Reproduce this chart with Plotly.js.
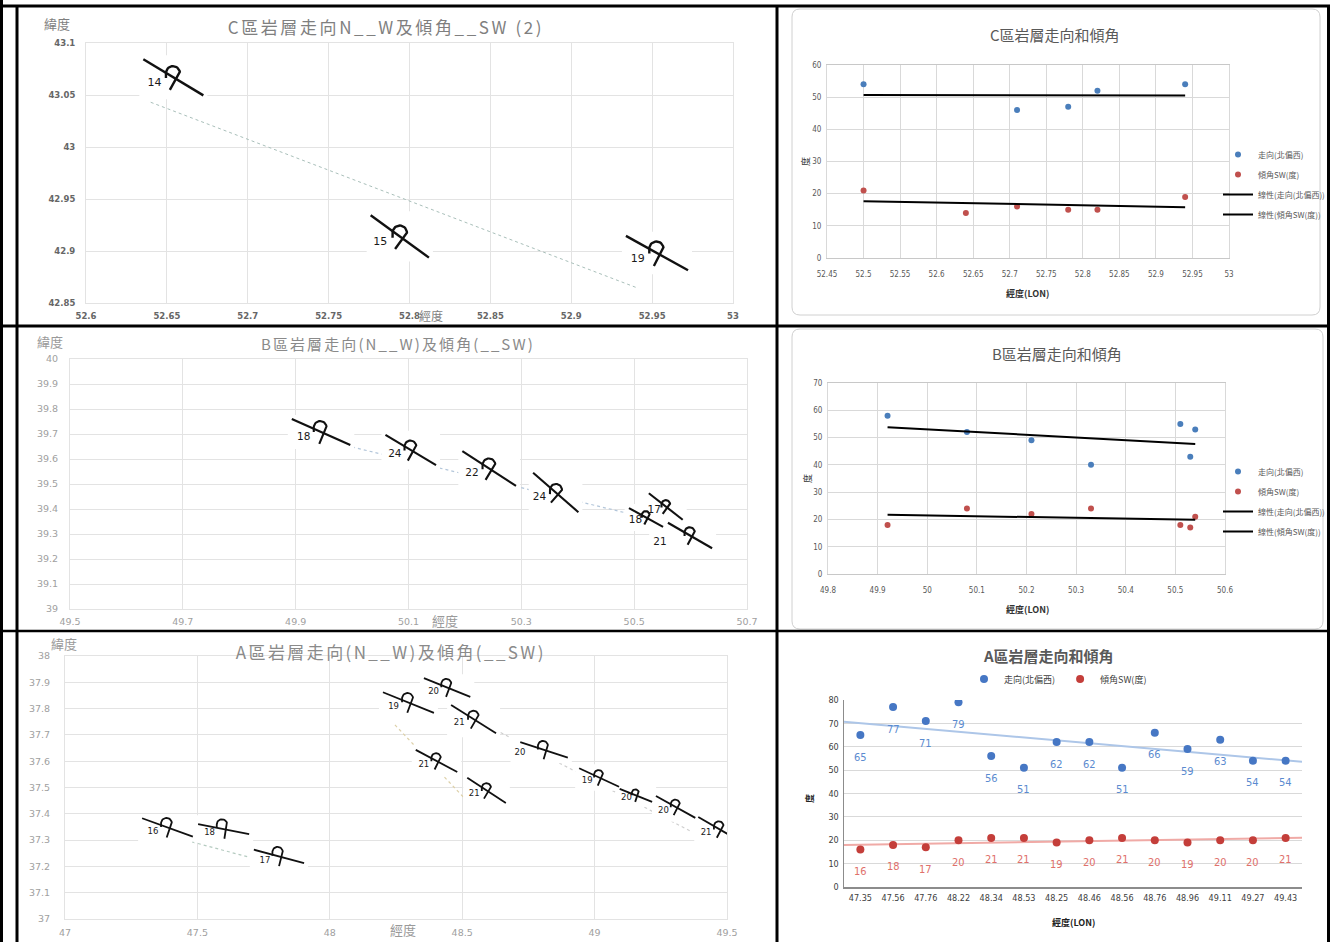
<!DOCTYPE html>
<html><head><meta charset="utf-8">
<script src="https://cdn.plot.ly/plotly-3.0.1.min.js"></script>
<style>html,body{margin:0;padding:0;background:#fff;}#chart{width:1344px;height:942px;}</style>
</head><body><div id="chart"></div>
<script>
// ================= DATA =================
// C area map (strike / dip symbols)
const cMapLon = [52.654, 52.794, 52.953];
const cMapLat = [43.067, 42.914, 42.898];
const cMapDip = [14, 15, 19];
const cMapStrike = [59, 54, 61];           // N__W
const cMapTrendLon = [52.64, 52.94];
const cMapTrendLat = [43.043, 42.865];

// B area map
const bMapLon = [49.945, 50.104, 50.243, 50.361, 50.521, 50.556, 50.599];
const bMapLat = [39.708, 39.636, 39.562, 39.466, 39.366, 39.410, 39.294];
const bMapDip = [18, 24, 22, 24, 18, 17, 21];
const bMapStrike = [66, 59, 57, 49, 61, 52, 60];
const bMapTrendLon = [50.0, 50.49];
const bMapTrendLat = [39.648, 39.382];

// A area map
const aMapLon = [47.387, 47.599, 47.808, 48.297, 48.443, 48.543, 48.809, 48.403, 48.592, 49.017, 49.156, 49.306, 49.470];
const aMapLat = [37.348, 37.342, 37.238, 37.823, 37.880, 37.760, 37.643, 37.601, 37.489, 37.538, 37.470, 37.426, 37.342];
const aMapDip = [16, 18, 17, 19, 20, 21, 20, 21, 21, 19, 20, 20, 21];
const aMapStrike = [70, 79, 75, 68, 68, 58, 72, 62, 57, 65, 68, 61, 60];
const aMapTrendLon = [[47.48, 47.706], [48.246, 48.522], [48.605, 49.368]];
const aMapTrendLat = [[37.293, 37.232], [37.738, 37.445], [37.730, 37.331]];

// C area chart
const cLonStrike = [52.5, 52.71, 52.78, 52.82, 52.94];
const cStrike = [54, 46, 47, 52, 54];
const cLonDip = [52.5, 52.64, 52.71, 52.78, 52.82, 52.94];
const cDip = [21, 14, 16, 15, 15, 19];

// B area chart
const bLon = [49.92, 50.08, 50.21, 50.33, 50.51, 50.53, 50.54];
const bStrike = [58, 52, 49, 40, 55, 43, 53];
const bDip = [18, 24, 22, 24, 18, 17, 21];

// A area chart (category axis)
const aLonLabels = ['47.35','47.56','47.76','48.22','48.34','48.53','48.25','48.46','48.56','48.76','48.96','49.11','49.27','49.43'];
const aStrike = [65, 77, 71, 79, 56, 51, 62, 62, 51, 66, 59, 63, 54, 54];
const aDip = [16, 18, 17, 20, 21, 21, 19, 20, 21, 20, 19, 20, 20, 21];

// ================= STYLE / LAYOUT =================
const W = 1344, H = 942;
const fx = p => p / W, fy = p => 1 - p / H;
const CJK = '"Noto Sans CJK TC","Noto Sans CJK SC","Noto Sans",sans-serif';
const NARROW = '"Liberation Sans Narrow","DejaVu Sans Condensed","Liberation Sans",sans-serif';
const WIDE = '"DejaVu Sans","Liberation Sans",sans-serif';

const SPEC = {
  cMap: {x: [86, 733], y: [43, 303], xr: [52.6, 53], yr: [42.85, 43.1]},
  bMap: {x: [70, 747], y: [359, 609], xr: [49.5, 50.7], yr: [39, 40]},
  aMap: {x: [65, 727], y: [656, 919], xr: [47, 49.5], yr: [37, 38]},
  cCh:  {x: [827, 1229], y: [65, 258], xr: [52.45, 53], yr: [0, 60]},
  bCh:  {x: [828, 1225], y: [383, 574], xr: [49.8, 50.6], yr: [0, 70]},
  aCh:  {x: [844, 1302], y: [700, 887], xr: [-0.5, 13.5], yr: [0, 80]}
};
// symbol sizes (strike length px), style only
const cSymLen = [70, 72, 71];
const bSymLen = [64, 59, 64, 60, 39, 43, 51];
const aSymLen = [54, 52, 52, 55, 50, 53, 50, 47, 46, 44, 35, 45, 48];
const bLabelOverride = {6: [-30, 7]};
const aLabelOverride = {6: [-24, 3]};

function linfit(xs, ys) {
  const n = xs.length; let mx = 0, my = 0;
  for (let i = 0; i < n; i++) { mx += xs[i] / n; my += ys[i] / n; }
  let sxy = 0, sxx = 0;
  for (let i = 0; i < n; i++) { sxy += (xs[i] - mx) * (ys[i] - my); sxx += (xs[i] - mx) ** 2; }
  const m = sxy / sxx;
  return x => my + m * (x - mx);
}

function buildMap(spec, xa, ya, lon, lat, strike, dip, lens, fs, lw, override) {
  const kx = (spec.x[1] - spec.x[0]) / (spec.xr[1] - spec.xr[0]);
  const ky = (spec.y[1] - spec.y[0]) / (spec.yr[1] - spec.yr[0]);
  const sx = [], sy = [], bx = [], by = [], tx = [], ty = [], tt = [];
  for (let i = 0; i < lon.length; i++) {
    const L = lens[i], th = (90 - strike[i]) * Math.PI / 180;
    const u = [Math.cos(th), Math.sin(th)], v = [Math.sin(th), -Math.cos(th)];
    const s1 = [[-L / 2 * u[0], -L / 2 * u[1]], [L / 2 * u[0], L / 2 * u[1]]];
    const a = 0.18 * L, b = 0.1 * L, r = 0.1 * L, c = 0.05 * L;
    const C0 = [c * u[0], c * u[1]];
    const T2 = [C0[0] + b * v[0], C0[1] + b * v[1]];
    const s2 = [[C0[0] - a * v[0], C0[1] - a * v[1]], T2];
    const M = [T2[0] - r, T2[1]];
    for (let k = 1; k <= 18; k++) {
      const f = Math.PI * k / 18;
      s2.push([M[0] + r * Math.cos(f), M[1] - r * Math.sin(f)]);
    }
    const e = s2[s2.length - 1];
    s2.push([e[0], e[1] + 0.07 * L]);
    const lo = (override && override[i]) ? override[i] : [-0.27 * L, 0.08 * L];
    [s1, s2].forEach(seg => {
      seg.forEach(p => { sx.push(lon[i] + p[0] / kx); sy.push(lat[i] - p[1] / ky); });
      sx.push(null); sy.push(null);
    });
    tx.push(lon[i] + lo[0] / kx); ty.push(lat[i] - lo[1] / ky); tt.push(String(dip[i]));
    // white picture background
    const all = s1.concat(s2);
    let x0 = Math.min(...all.map(p => p[0]), lo[0] - fs * 0.65), x1 = Math.max(...all.map(p => p[0]));
    let y0 = Math.min(...all.map(p => p[1]), lo[1] - fs * 0.5), y1 = Math.max(...all.map(p => p[1]), lo[1] + fs * 0.5);
    const pad = 4; x0 -= pad; x1 += pad; y0 -= pad; y1 += pad;
    [[x0, y0], [x1, y0], [x1, y1], [x0, y1], [x0, y0]].forEach(p => { bx.push(lon[i] + p[0] / kx); by.push(lat[i] - p[1] / ky); });
    bx.push(null); by.push(null);
  }
  return [
    {type: 'scatter', mode: 'lines', x: bx, y: by, xaxis: xa, yaxis: ya, fill: 'toself', fillcolor: '#ffffff', line: {width: 0, color: 'rgba(0,0,0,0)'}, hoverinfo: 'skip', showlegend: false},
    {type: 'scatter', mode: 'lines', x: sx, y: sy, xaxis: xa, yaxis: ya, line: {color: '#111', width: lw}, hoverinfo: 'skip', showlegend: false},
    {type: 'scatter', mode: 'text', x: tx, y: ty, text: tt, xaxis: xa, yaxis: ya, textfont: {family: WIDE, size: fs, color: '#1a1a1a'}, hoverinfo: 'skip', showlegend: false}
  ];
}

const traces = [];
// ---- map trend lines (drawn first, under the symbol pictures)
traces.push({type: 'scatter', mode: 'lines', x: cMapTrendLon, y: cMapTrendLat, xaxis: 'x', yaxis: 'y', line: {color: '#a9bfba', width: 1, dash: 'dot'}, showlegend: false, hoverinfo: 'skip'});
traces.push({type: 'scatter', mode: 'lines', x: bMapTrendLon, y: bMapTrendLat, xaxis: 'x3', yaxis: 'y3', line: {color: '#b3c6da', width: 1.2, dash: 'dot'}, showlegend: false, hoverinfo: 'skip'});
const aTrendColors = ['#b5cbc0', '#ddd0a8', '#cfcfcf'];
aMapTrendLon.forEach((xs, i) => traces.push({type: 'scatter', mode: 'lines', x: xs, y: aMapTrendLat[i], xaxis: 'x5', yaxis: 'y5', line: {color: aTrendColors[i], width: 1.2, dash: 'dot'}, showlegend: false, hoverinfo: 'skip'}));

traces.push(...buildMap(SPEC.cMap, 'x', 'y', cMapLon, cMapLat, cMapStrike, cMapDip, cSymLen, 11, 2.4, null));
traces.push(...buildMap(SPEC.bMap, 'x3', 'y3', bMapLon, bMapLat, bMapStrike, bMapDip, bSymLen, 10.5, 2.1, bLabelOverride));
traces.push(...buildMap(SPEC.aMap, 'x5', 'y5', aMapLon, aMapLat, aMapStrike, aMapDip, aSymLen, 8.5, 1.8, aLabelOverride));

// ---- right-hand scatter charts
const BLUE = '#4a7ebb', RED = '#c0504d';
function chartTraces(xa, ya, leg, xsS, ysS, xsD, ysD) {
  const fS = linfit(xsS, ysS), fD = linfit(xsD, ysD);
  const sx = [Math.min(...xsS), Math.max(...xsS)], dx = [Math.min(...xsD), Math.max(...xsD)];
  return [
    {type: 'scatter', mode: 'markers', name: '走向(北偏西)', x: xsS, y: ysS, xaxis: xa, yaxis: ya, legend: leg, legendgroup: leg + 'a', marker: {color: BLUE, size: 6}},
    {type: 'scatter', mode: 'markers', name: '傾角SW(度)', x: xsD, y: ysD, xaxis: xa, yaxis: ya, legend: leg, legendgroup: leg + 'b', marker: {color: RED, size: 6}},
    {type: 'scatter', mode: 'lines', name: '線性(走向(北偏西))', x: sx, y: sx.map(fS), xaxis: xa, yaxis: ya, legend: leg, legendgroup: leg + 'c', line: {color: '#000', width: 2}},
    {type: 'scatter', mode: 'lines', name: '線性(傾角SW(度))', x: dx, y: dx.map(fD), xaxis: xa, yaxis: ya, legend: leg, legendgroup: leg + 'd', line: {color: '#000', width: 2}}
  ];
}
traces.push(...chartTraces('x2', 'y2', 'legend', cLonStrike, cStrike, cLonDip, cDip));
traces.push(...chartTraces('x4', 'y4', 'legend2', bLon, bStrike, bLon, bDip));

// A chart
const aIdx = aLonLabels.map((_, i) => i);
const fAS = linfit(aIdx, aStrike), fAD = linfit(aIdx, aDip);
const aEnds = [SPEC.aCh.xr[0], SPEC.aCh.xr[1]];
traces.push({type: 'scatter', mode: 'lines', x: aEnds, y: aEnds.map(fAS), xaxis: 'x6', yaxis: 'y6', line: {color: '#adc6e8', width: 2}, showlegend: false, hoverinfo: 'skip'});
traces.push({type: 'scatter', mode: 'lines', x: aEnds, y: aEnds.map(fAD), xaxis: 'x6', yaxis: 'y6', line: {color: '#f0aaa6', width: 2}, showlegend: false, hoverinfo: 'skip'});
traces.push({type: 'scatter', mode: 'markers', name: '走向(北偏西)', x: aIdx, y: aStrike, xaxis: 'x6', yaxis: 'y6', legend: 'legend3', marker: {color: '#4677c4', size: 8}});
traces.push({type: 'scatter', mode: 'markers', name: '傾角SW(度)', x: aIdx, y: aDip, xaxis: 'x6', yaxis: 'y6', legend: 'legend3', marker: {color: '#c43e3a', size: 8}});

// ---- axes
const GRID = '#e3e3e3';
function axX(s, o) { return Object.assign({domain: [fx(s.x[0]), fx(s.x[1])], range: s.xr.slice(), fixedrange: true, showgrid: true, gridcolor: GRID, zeroline: false, ticks: '', showline: true, mirror: true, linecolor: GRID}, o); }
function axY(s, o) { return Object.assign({domain: [fy(s.y[1]), fy(s.y[0])], range: s.yr.slice(), fixedrange: true, showgrid: true, gridcolor: GRID, zeroline: false, ticks: '', showline: true, mirror: true, linecolor: GRID}, o); }
const mapTickC = {family: WIDE, size: 8.5, color: '#666', weight: 'bold'};
const mapTick = {family: WIDE, size: 9.5, color: '#a0a0a0'};
const chTick = {family: NARROW, size: 8, color: '#595959'};

const layout = {
  width: W, height: H, autosize: false, margin: {l: 0, r: 0, t: 0, b: 0},
  paper_bgcolor: '#fff', plot_bgcolor: '#fff', showlegend: true,
  xaxis: axX(SPEC.cMap, {anchor: 'y', dtick: 0.05, tick0: 52.6, tickfont: mapTickC, ticklabelstandoff: 5}),
  yaxis: axY(SPEC.cMap, {anchor: 'x', dtick: 0.05, tick0: 42.85, tickfont: mapTickC, ticklabelstandoff: 8}),
  xaxis2: axX(SPEC.cCh, {anchor: 'y2', dtick: 0.05, tick0: 52.45, tickfont: chTick, ticklabelstandoff: 8, gridcolor: '#d9d9d9', linecolor: '#c8c8c8'}),
  yaxis2: axY(SPEC.cCh, {anchor: 'x2', dtick: 10, tickfont: chTick, ticklabelstandoff: 3, gridcolor: '#d9d9d9', linecolor: '#d9d9d9'}),
  xaxis3: axX(SPEC.bMap, {anchor: 'y3', dtick: 0.2, tick0: 49.5, tickfont: mapTick, ticklabelstandoff: 4}),
  yaxis3: axY(SPEC.bMap, {anchor: 'x3', dtick: 0.1, tick0: 39, tickfont: mapTick, ticklabelstandoff: 9}),
  xaxis4: axX(SPEC.bCh, {anchor: 'y4', dtick: 0.1, tick0: 49.8, tickfont: chTick, ticklabelstandoff: 8, gridcolor: '#d9d9d9', linecolor: '#c8c8c8'}),
  yaxis4: axY(SPEC.bCh, {anchor: 'x4', dtick: 10, tickfont: chTick, ticklabelstandoff: 3, gridcolor: '#d9d9d9', linecolor: '#d9d9d9'}),
  xaxis5: axX(SPEC.aMap, {anchor: 'y5', dtick: 0.5, tick0: 47, tickfont: mapTick, ticklabelstandoff: 5}),
  yaxis5: axY(SPEC.aMap, {anchor: 'x5', dtick: 0.1, tick0: 37, tickfont: mapTick, ticklabelstandoff: 12}),
  xaxis6: axX(SPEC.aCh, {anchor: 'y6', showgrid: false, mirror: false, linecolor: '#8c8c8c', linewidth: 1.5, tickvals: aIdx, ticktext: aLonLabels, tickfont: {family: NARROW, size: 9, color: '#404040'}, ticklabelstandoff: 2}),
  yaxis6: axY(SPEC.aCh, {anchor: 'x6', dtick: 10, mirror: false, linecolor: '#8c8c8c', linewidth: 1.5, gridcolor: '#d9d9d9', tickfont: {family: NARROW, size: 9, color: '#404040'}, ticklabelstandoff: 2}),
  legend: {x: fx(1218), y: fy(140), xanchor: 'left', yanchor: 'top', font: {family: CJK, size: 8, color: '#595959'}, bgcolor: 'rgba(0,0,0,0)', tracegroupgap: 1, itemclick: false},
  legend2: {x: fx(1218), y: fy(457), xanchor: 'left', yanchor: 'top', font: {family: CJK, size: 8, color: '#595959'}, bgcolor: 'rgba(0,0,0,0)', tracegroupgap: 1, itemclick: false},
  legend3: {orientation: 'h', x: fx(1058), y: fy(679), xanchor: 'center', yanchor: 'middle', font: {family: CJK, size: 9, color: '#404040'}, bgcolor: 'rgba(0,0,0,0)', itemclick: false},
  annotations: [],
  shapes: []
};

const A = layout.annotations;
function pann(px, py, text, font, extra) { A.push(Object.assign({xref: 'paper', yref: 'paper', x: fx(px), y: fy(py), text: text, showarrow: false, xanchor: 'center', yanchor: 'middle', font: font}, extra || {})); }
// map titles & axis labels (first three annotations get letter spacing)
pann(386, 27, 'C區岩層走向N__W及傾角__SW (2)', {family: CJK, size: 17, color: '#7f7f7f'});
pann(398, 343, 'B區岩層走向(N__W)及傾角(__SW)', {family: CJK, size: 15, color: '#8a8a8a'});
pann(391, 651, 'A區岩層走向(N__W)及傾角(__SW)', {family: CJK, size: 17, color: '#8a8a8a'});
pann(57, 24, '緯度', {family: CJK, size: 13, color: '#7f7f7f'});
pann(431, 316, '經度', {family: CJK, size: 12, color: '#7f7f7f'});
pann(50, 342, '緯度', {family: CJK, size: 13, color: '#9a9a9a'});
pann(445, 620, '經度', {family: CJK, size: 13, color: '#9a9a9a'});
pann(64, 643, '緯度', {family: CJK, size: 13, color: '#9a9a9a'});
pann(403, 929, '經度', {family: CJK, size: 13, color: '#9a9a9a'});
// chart titles & axis labels
pann(1055, 35, 'C區岩層走向和傾角', {family: CJK, size: 15, color: '#595959'});
pann(806, 162, '度', {family: CJK, size: 9, color: '#333'}, {textangle: -90});
pann(1027, 294, '經度(LON)', {family: CJK, size: 9, color: '#333', weight: 'bold'});
pann(1057, 353, 'B區岩層走向和傾角', {family: CJK, size: 15, color: '#595959'});
pann(807, 479, '度', {family: CJK, size: 9, color: '#333'}, {textangle: -90});
pann(1027, 609, '經度(LON)', {family: CJK, size: 9, color: '#333', weight: 'bold'});
pann(1048, 655, 'A區岩層走向和傾角', {family: CJK, size: 15, color: '#595959', weight: 'bold'});
pann(809, 799, '度', {family: CJK, size: 9, color: '#222', weight: 'bold'}, {textangle: -90});
pann(1073, 922, '經度(LON)', {family: CJK, size: 9, color: '#222', weight: 'bold'});
// A chart data labels
aStrike.forEach((v, i) => A.push({xref: 'x6', yref: 'y6', x: i, y: v, text: String(v), showarrow: false, yshift: -22, font: {family: NARROW, size: 11, color: '#5b8bd0'}}));
aDip.forEach((v, i) => A.push({xref: 'x6', yref: 'y6', x: i, y: v, text: String(v), showarrow: false, yshift: -22, font: {family: NARROW, size: 11, color: '#e0706b'}}));

// shapes: rounded chart boxes and black table borders
function rr(x0, y0, x1, y1, r) {
  const X = fx, Y = fy;
  return `M${X(x0 + r)},${Y(y0)} L${X(x1 - r)},${Y(y0)} Q${X(x1)},${Y(y0)} ${X(x1)},${Y(y0 + r)} L${X(x1)},${Y(y1 - r)} Q${X(x1)},${Y(y1)} ${X(x1 - r)},${Y(y1)} L${X(x0 + r)},${Y(y1)} Q${X(x0)},${Y(y1)} ${X(x0)},${Y(y1 - r)} L${X(x0)},${Y(y0 + r)} Q${X(x0)},${Y(y0)} ${X(x0 + r)},${Y(y0)} Z`;
}
const S = layout.shapes;
S.push({type: 'path', xref: 'paper', yref: 'paper', path: rr(792, 9, 1320, 315, 8), line: {color: '#d0d0d0', width: 1}});
S.push({type: 'path', xref: 'paper', yref: 'paper', path: rr(792, 329, 1323, 629, 8), line: {color: '#d0d0d0', width: 1}});
function bl(x0, y0, x1, y1, w) { S.push({type: 'line', xref: 'paper', yref: 'paper', x0: fx(x0), y0: fy(y0), x1: fx(x1), y1: fy(y1), line: {color: '#000', width: w}}); }
bl(1.5, 0, 1.5, 942, 3);
bl(17, 5, 17, 942, 3);
bl(777, 5, 777, 942, 3);
bl(1328.5, 5, 1328.5, 942, 3);
bl(0, 6, 1330, 6, 3);
bl(0, 326, 1330, 326, 3);
bl(0, 631, 1330, 631, 2.5);

Plotly.newPlot('chart', traces, layout, {displayModeBar: false, staticPlot: true}).then(gd => {
  // the map titles in the original are spread out (stretched picture); widen their letter spacing
  const spacing = {0: '2.6px', 1: '2.1px', 2: '2.4px'};
  Object.keys(spacing).forEach(k => {
    const t = gd.querySelector('.annotation[data-index="' + k + '"] text');
    if (t) t.style.letterSpacing = spacing[k];
  });
});
</script></body></html>
